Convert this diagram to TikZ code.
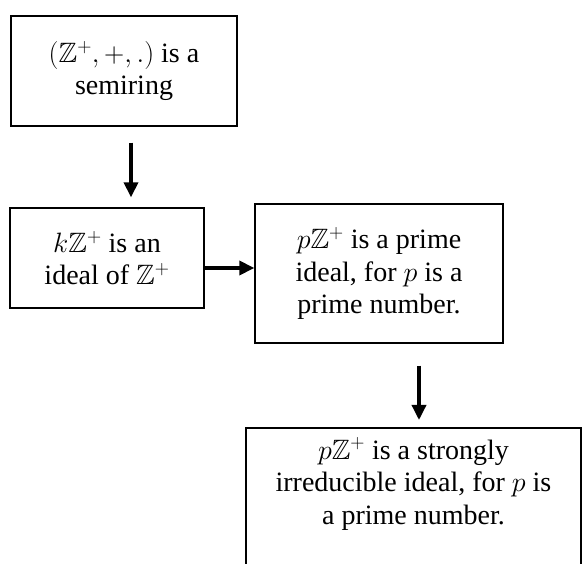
\RequirePackage{fix-cm}
\documentclass[tikz,border=0pt]{standalone}
\usepackage{amssymb}
\usepackage{fontspec}
\setmainfont{Liberation Serif}
\usetikzlibrary{positioning}
\usetikzlibrary{arrows.meta}
\usetikzlibrary{calc}

\tikzset{
  stmt/.style={align=center, font=\fontsize{28}{32.5}\selectfont, inner sep=0pt},
  framed/.style={stmt, draw, line width=1.3pt},
  imp/.style={line width=3.4pt, -{Triangle[width=14pt, length=15pt]}},
}

\begin{document}
\begin{tikzpicture}[x=1pt, y=-1pt]
\useasboundingbox (0,0) rectangle (582,564);

\node[framed, minimum width=226pt, minimum height=110pt] (semi) at (124,71) {$(\mathbb{Z}^+,+,.)$ is a\\semiring};
\node[framed, minimum width=194pt, minimum height=100pt] (ideal) at (107,258) {$k\mathbb{Z}^+$ is an\\ideal of $\mathbb{Z}^+$};
\node[framed, minimum width=248pt, minimum height=139pt] (prime) at (379,273.5) {$p\mathbb{Z}^+$ is a prime\\ideal, for $p$ is a\\prime number.};

% last box runs off the page
\coordinate (strongNW) at (246,428);
\coordinate (strongSE) at (581,590);
\draw[line width=1.3pt] (strongNW) rectangle (strongSE);
\node[stmt] (strong) at (413.5,484) {$p\mathbb{Z}^+$ is a strongly\\irreducible ideal, for $p$ is\\a prime number.};

\coordinate (down1) at (131,0);
\coordinate (down2) at (419,0);
\draw[imp, shorten <=16pt, shorten >=10pt] (semi.south -| down1) -- (ideal.north -| down1);
\draw[imp] ([yshift=-10pt]ideal.east) -- ([yshift=-10pt]ideal.east -| prime.west);
\draw[imp, shorten <=22pt, shorten >=8pt] (prime.south -| down2) -- (strongNW -| down2);

\end{tikzpicture}
\end{document}
